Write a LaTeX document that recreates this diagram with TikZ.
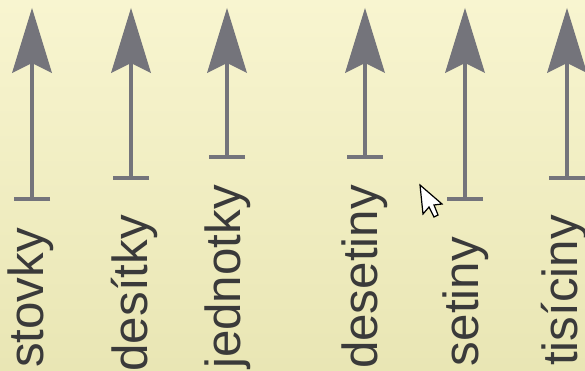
\documentclass[tikz,border=0pt]{standalone}
\usepackage{fontspec}
\setmainfont{Liberation Sans}
\usetikzlibrary{arrows.meta}
\definecolor{bgtop}{RGB}{248,245,208}
\definecolor{bgbot}{RGB}{233,230,180}
\definecolor{arrowgray}{RGB}{116,116,123}
\definecolor{textgray}{RGB}{58,58,58}
\tikzset{
  placearrow/.style={draw=arrowgray, line width=4bp,
    {Bar[width=36bp,line width=4bp]}-{Stealth[length=65bp,width=40bp,inset=10bp,line width=0bp]}},
  placelabel/.style={rotate=90, anchor=base east, inner sep=0pt, text=textgray,
    font=\fontsize{49.5}{54}\selectfont}
}
\begin{document}
\begin{tikzpicture}[x=1bp,y=1bp]
\useasboundingbox (0,0) rectangle (585,370);
\shade[top color=bgtop, bottom color=bgbot] (0,0) rectangle (585,370);
% coordinates: bar (b) and tip (t)
\coordinate (b1) at (32,169);  \coordinate (t1) at (32,362);
\coordinate (b2) at (131,190); \coordinate (t2) at (131,362);
\coordinate (b3) at (227,211); \coordinate (t3) at (227,362);
\coordinate (b4) at (365,211); \coordinate (t4) at (365,362);
\coordinate (b5) at (465,169); \coordinate (t5) at (465,362);
\coordinate (b6) at (567,190); \coordinate (t6) at (567,362);
\foreach \i in {1,...,6} { \draw[placearrow] (b\i) -- (t\i); }
\node[placelabel] (l1) at (43,142) {stovky};
\node[placelabel] (l2) at (147,155) {desítky};
\node[placelabel] (l3) at (240,185) {jednotky};
\node[placelabel] (l4) at (377,185) {desetiny};
\node[placelabel] (l5) at (478,133) {setiny};
\node[placelabel] (l6) at (577,155) {tisíciny};
% mouse cursor
\draw[fill=white, line width=1.2bp, line join=miter]
  (420,185) -- (423,156) -- (429,163) -- (434,153) -- (438,155) -- (434,165) -- (442,166) -- cycle;
\end{tikzpicture}
\end{document}
